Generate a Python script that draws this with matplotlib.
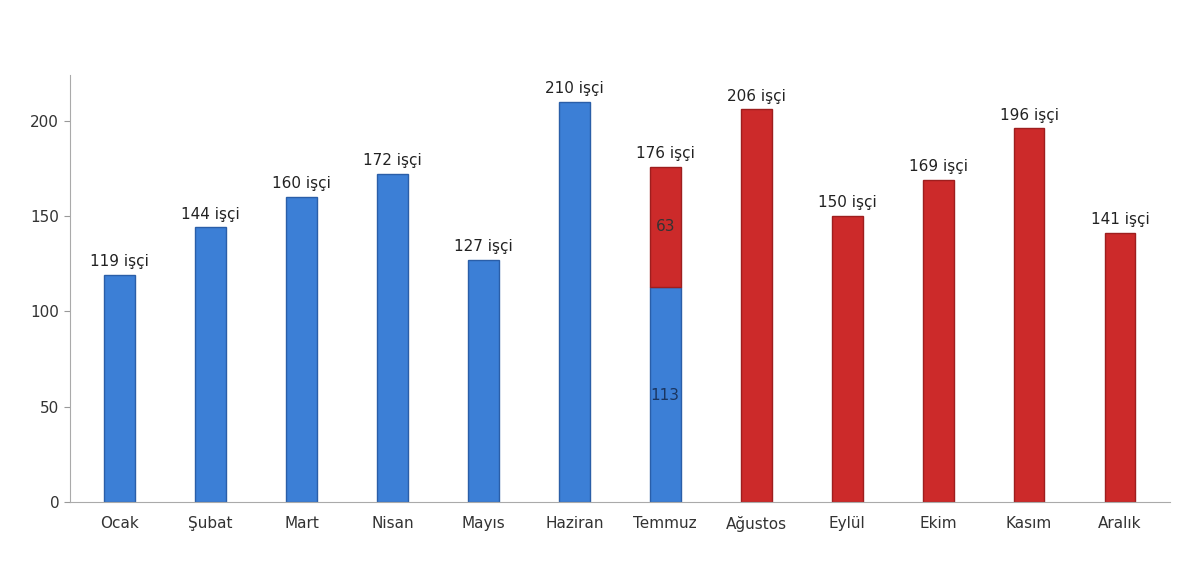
import numpy as np
import matplotlib.pyplot as plt

months = ["Ocak", "Şubat", "Mart", "Nisan", "Mayıs", "Haziran", "Temmuz",
          "Ağustos", "Eylül", "Ekim", "Kasım", "Aralık"]
blue_vals = [119, 144, 160, 172, 127, 210, 113, 0, 0, 0, 0, 0]
red_vals = [0, 0, 0, 0, 0, 0, 63, 206, 150, 169, 196, 141]
totals = [119, 144, 160, 172, 127, 210, 176, 206, 150, 169, 196, 141]

fig = plt.figure(figsize=(12, 5.64), dpi=100)
ax = fig.add_axes([0.058, 0.11, 0.917, 0.757])
x = np.arange(len(months))
w = 0.34

blue = np.array(blue_vals)
red = np.array(red_vals)
bm = blue > 0
rm = red > 0
ax.bar(x[bm], blue[bm], w, color="#3c7fd6", edgecolor="#2a5ea8", linewidth=1)
ax.bar(x[rm], red[rm], w, bottom=blue[rm], color="#cc2a2a", edgecolor="#9e1e1e", linewidth=1)

for xi, t in zip(x, totals):
    ax.text(xi, t + 3, f"{t} işçi", ha="center", va="bottom", fontsize=11, color="#222222")

ax.text(6, 113 + 63 / 2, "63", ha="center", va="center", fontsize=11, color="#333333")
ax.text(6, 56, "113", ha="center", va="center", fontsize=11, color="#1a3560")

ax.set_xlim(-0.55, 11.55)
ax.set_ylim(0, 224)
ax.set_yticks([0, 50, 100, 150, 200])
ax.set_xticks(x)
ax.set_xticklabels(months, fontsize=11)
ax.tick_params(axis="y", labelsize=11, colors="#333333", length=4, color="#999999")
ax.tick_params(axis="x", length=0, pad=10, colors="#333333")
for s in ["top", "right"]:
    ax.spines[s].set_visible(False)
ax.spines["left"].set_color("#aaaaaa")
ax.spines["bottom"].set_color("#aaaaaa")

fig.savefig("out.png", dpi=100)
